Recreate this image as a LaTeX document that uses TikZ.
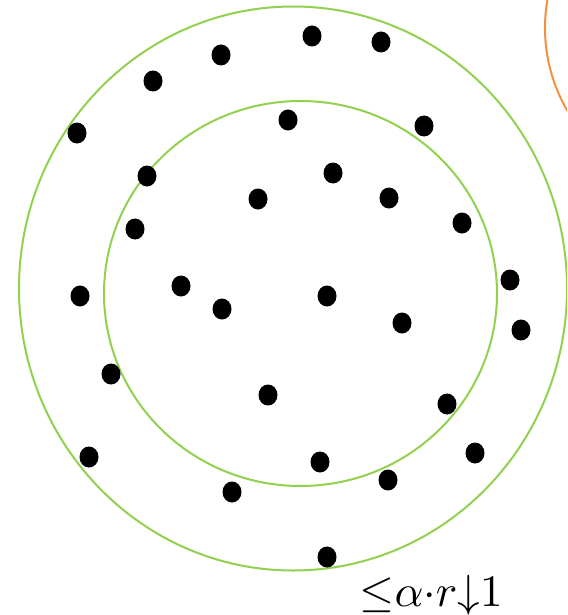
\documentclass[tikz,border=0pt]{standalone}
\usepackage{xcolor}
\definecolor{lgreen}{RGB}{146,208,80}
\definecolor{lorange}{RGB}{245,145,60}
\begin{document}
\begin{tikzpicture}[x=1pt,y=-1pt,
  ring/.style={draw=lgreen,line width=2pt},
  dot/.style={fill=black}]
\useasboundingbox (0,0) rectangle (567,615);
\begin{scope}
\clip (0,0) rectangle (567,615);
\draw[draw=lorange,line width=2pt] (709,28) circle (164);
\draw[ring] (293,288.5) ellipse (274 and 282);
\end{scope}
\draw[ring] (300.5,293.5) ellipse (196.5 and 192.5);
\foreach \x/\y in {312/36,381/42,221/55,153/81,77/133,288/120,424/126,147/176,333/173,258/199,389/198,462/223,135/229,80/296,181/286,222/309,327/296,510/280,402/323,521/330,111/374,268/395,447/404,89/457,320/462,475/453,388/480,232/492,327/557}
  \fill[dot] (\x,\y) ellipse (9.5 and 10.5);
\node[anchor=base,inner sep=0pt,scale=4.5] (lbl) at (431,606) {${\leq}{\alpha}{\cdot}{r}{\downarrow}{1}$};
\end{tikzpicture}
\end{document}
